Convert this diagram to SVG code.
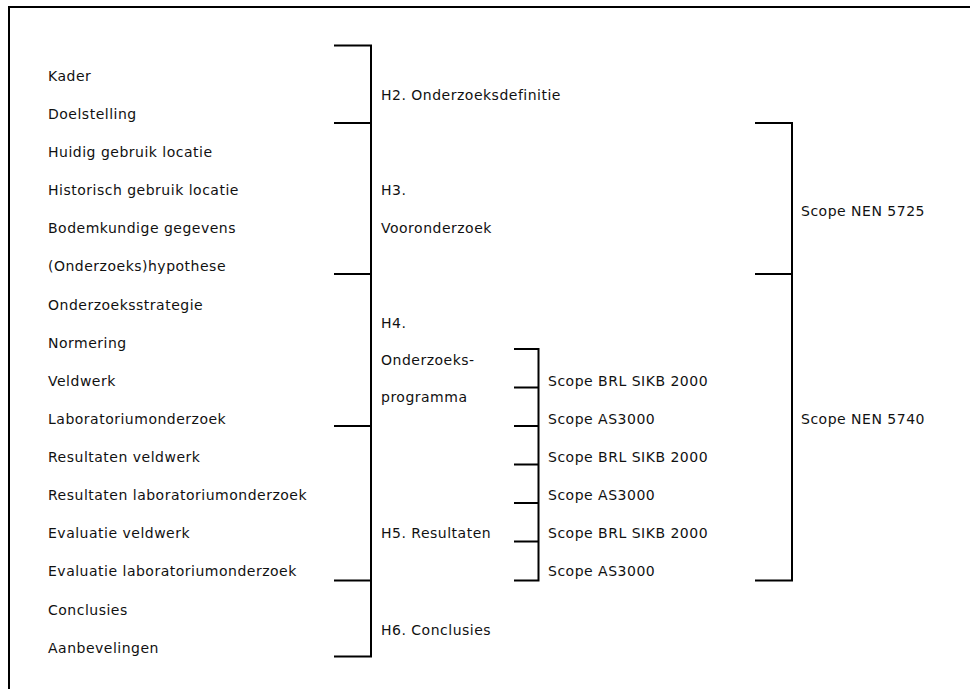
<svg xmlns="http://www.w3.org/2000/svg" width="970" height="689" viewBox="0 0 970 689">
<style>
  text { font-family: "DejaVu Sans", "Liberation Sans", sans-serif; font-size: 14px; letter-spacing: 0.5px; fill: #111; }
  .br { fill: none; stroke: #000; stroke-width: 2; }
</style>
<rect x="0" y="0" width="970" height="689" fill="#fff"/>
<path class="br" d="M9,689 V7 H970"/>
<g id="items">
  <text x="48" y="80.7">Kader</text>
  <text x="48" y="118.8">Doelstelling</text>
  <text x="48" y="157">Huidig gebruik locatie</text>
  <text x="48" y="195.1">Historisch gebruik locatie</text>
  <text x="48" y="233.2">Bodemkundige gegevens</text>
  <text x="48" y="271.3">(Onderzoeks)hypothese</text>
  <text x="48" y="309.5">Onderzoeksstrategie</text>
  <text x="48" y="347.6">Normering</text>
  <text x="48" y="385.7">Veldwerk</text>
  <text x="48" y="423.9">Laboratoriumonderzoek</text>
  <text x="48" y="462">Resultaten veldwerk</text>
  <text x="48" y="500.1">Resultaten laboratoriumonderzoek</text>
  <text x="48" y="538.3">Evaluatie veldwerk</text>
  <text x="48" y="576.4">Evaluatie laboratoriumonderzoek</text>
  <text x="48" y="614.5">Conclusies</text>
  <text x="48" y="652.7">Aanbevelingen</text>
</g>
<g id="H2"><text x="381" y="100">H2. Onderzoeksdefinitie</text></g>
<g id="H3"><text x="381" y="195.1">H3.</text><text x="381" y="233.2">Vooronderzoek</text></g>
<g id="H4"><text x="381" y="327.7">H4.</text><text x="381" y="364.5">Onderzoeks-</text><text x="381" y="401.7">programma</text></g>
<g id="H5"><text x="381" y="538.3">H5. Resultaten</text></g>
<g id="H6"><text x="381" y="635">H6. Conclusies</text></g>
<g id="scopes">
  <text x="548" y="385.7">Scope BRL SIKB 2000</text>
  <text x="548" y="423.9">Scope AS3000</text>
  <text x="548" y="462">Scope BRL SIKB 2000</text>
  <text x="548" y="500.1">Scope AS3000</text>
  <text x="548" y="538.3">Scope BRL SIKB 2000</text>
  <text x="548" y="576.4">Scope AS3000</text>
</g>
<g id="NEN5725"><text x="801" y="216">Scope NEN 5725</text></g>
<g id="NEN5740"><text x="801" y="424">Scope NEN 5740</text></g>
<g id="connectors">
  <path class="br" d="M334,45.5 H371 V656.5 H334 M334,123 H371 M334,274 H371 M334,426 H371 M334,580.5 H371"/>
  <path class="br" d="M514,349 H538.5 V580.5 H514 M514,387.5 H538.5 M514,426 H538.5 M514,464.5 H538.5 M514,503 H538.5 M514,541.5 H538.5"/>
  <path class="br" d="M755,123 H792 V580.5 H755 M755,274 H792"/>
</g>
</svg>
